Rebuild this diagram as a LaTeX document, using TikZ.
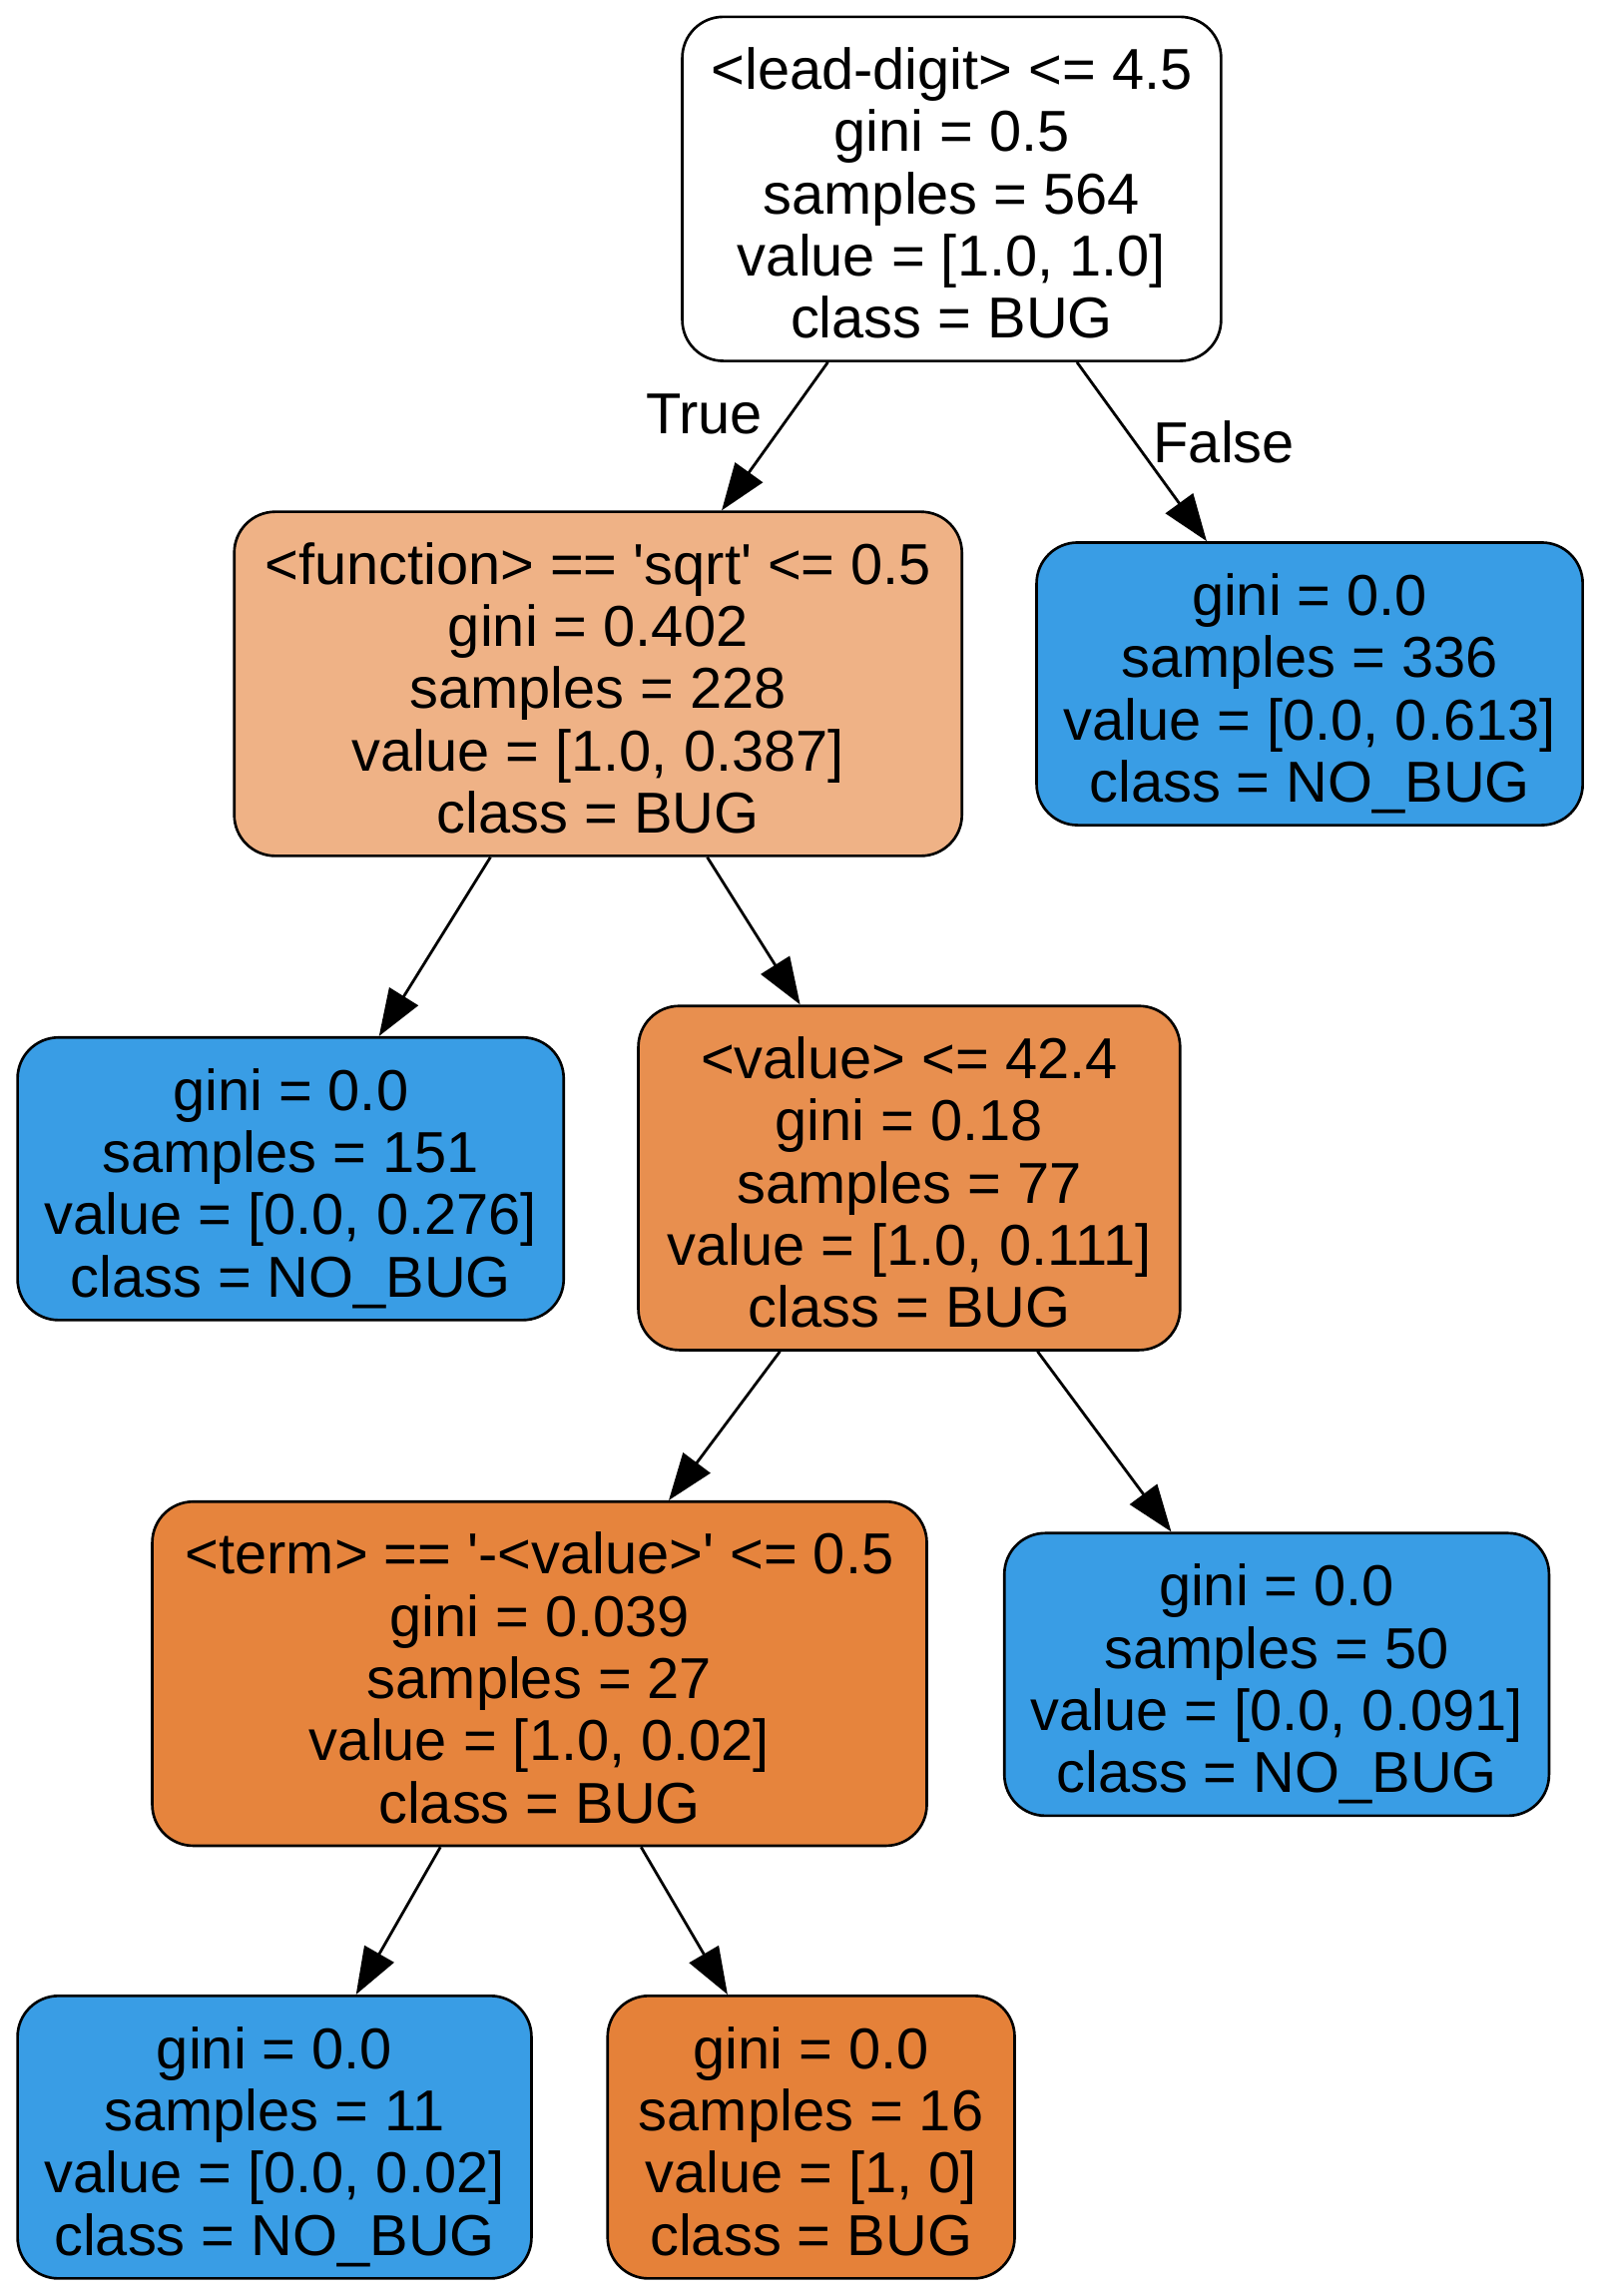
\documentclass[tikz,border=0pt]{standalone}
\usepackage{fontspec}
\newfontfamily\treefont{Liberation Sans}
\usetikzlibrary{arrows.meta}

\definecolor{bugA}{HTML}{EFB286}
\definecolor{bugB}{HTML}{E88F4F}
\definecolor{bugC}{HTML}{E6843D}
\definecolor{bugD}{HTML}{E58139}
\definecolor{nobug}{HTML}{399DE5}

\begin{document}
\begin{tikzpicture}[x=0.5pt, y=-0.5pt,
    every node/.style={font=\treefont\fontsize{19.7}{21.25}\selectfont},
    box/.style={draw, line width=0.9pt, rounded corners=14pt, align=center,
      inner xsep=8pt, inner ysep=0pt, text depth=2.5pt},
    split/.style={box, minimum height=117.5pt, text height=104.5pt},
    leaf/.style={box, minimum height=96.5pt, text height=83.25pt},
    edge/.style={line width=0.95pt, -{Triangle[length=16pt, width=11.5pt]}}]

  \useasboundingbox (0, 0) rectangle (1094, 1568);

  \node[split, minimum width=184pt] (n0) at (650, 129)
    {<lead-digit> <= 4.5\\gini = 0.5\\samples = 564\\value = [1.0, 1.0]\\class = BUG};
  \node[split, fill=bugA, minimum width=248.5pt] (n1) at (408.5, 467)
    {<function> == 'sqrt' <= 0.5\\gini = 0.402\\samples = 228\\value = [1.0, 0.387]\\class = BUG};
  \node[leaf, fill=nobug, minimum width=186.5pt] (n8) at (894.5, 467)
    {gini = 0.0\\samples = 336\\value = [0.0, 0.613]\\class = NO\_BUG};
  \node[leaf, fill=nobug, minimum width=186.5pt] (n2) at (198.5, 805)
    {gini = 0.0\\samples = 151\\value = [0.0, 0.276]\\class = NO\_BUG};
  \node[split, fill=bugB, minimum width=185pt] (n3) at (621, 804.5)
    {<value> <= 42.4\\gini = 0.18\\samples = 77\\value = [1.0, 0.111]\\class = BUG};
  \node[split, fill=bugC, minimum width=264.5pt] (n4) at (368.5, 1143)
    {<term> == '-<value>' <= 0.5\\gini = 0.039\\samples = 27\\value = [1.0, 0.02]\\class = BUG};
  \node[leaf, fill=nobug, minimum width=186pt] (n7) at (872, 1143.5)
    {gini = 0.0\\samples = 50\\value = [0.0, 0.091]\\class = NO\_BUG};
  \node[leaf, fill=nobug, minimum width=175.5pt] (n5) at (187.5, 1459.5)
    {gini = 0.0\\samples = 11\\value = [0.0, 0.02]\\class = NO\_BUG};
  \node[leaf, fill=bugD, minimum width=139pt] (n6) at (554, 1459.5)
    {gini = 0.0\\samples = 16\\value = [1, 0]\\class = BUG};

  \draw[edge] (n0) -- (n1);
  \draw[edge] (n0) -- (n8);
  \draw[edge] (n1) -- (n2);
  \draw[edge] (n1) -- (n3);
  \draw[edge] (n3) -- (n4);
  \draw[edge] (n3) -- (n7);
  \draw[edge] (n4) -- (n5);
  \draw[edge] (n4) -- (n6);

  \node (lblTrue) at (481, 283) {True};
  \node (lblFalse) at (836, 302) {False};

\end{tikzpicture}
\end{document}
